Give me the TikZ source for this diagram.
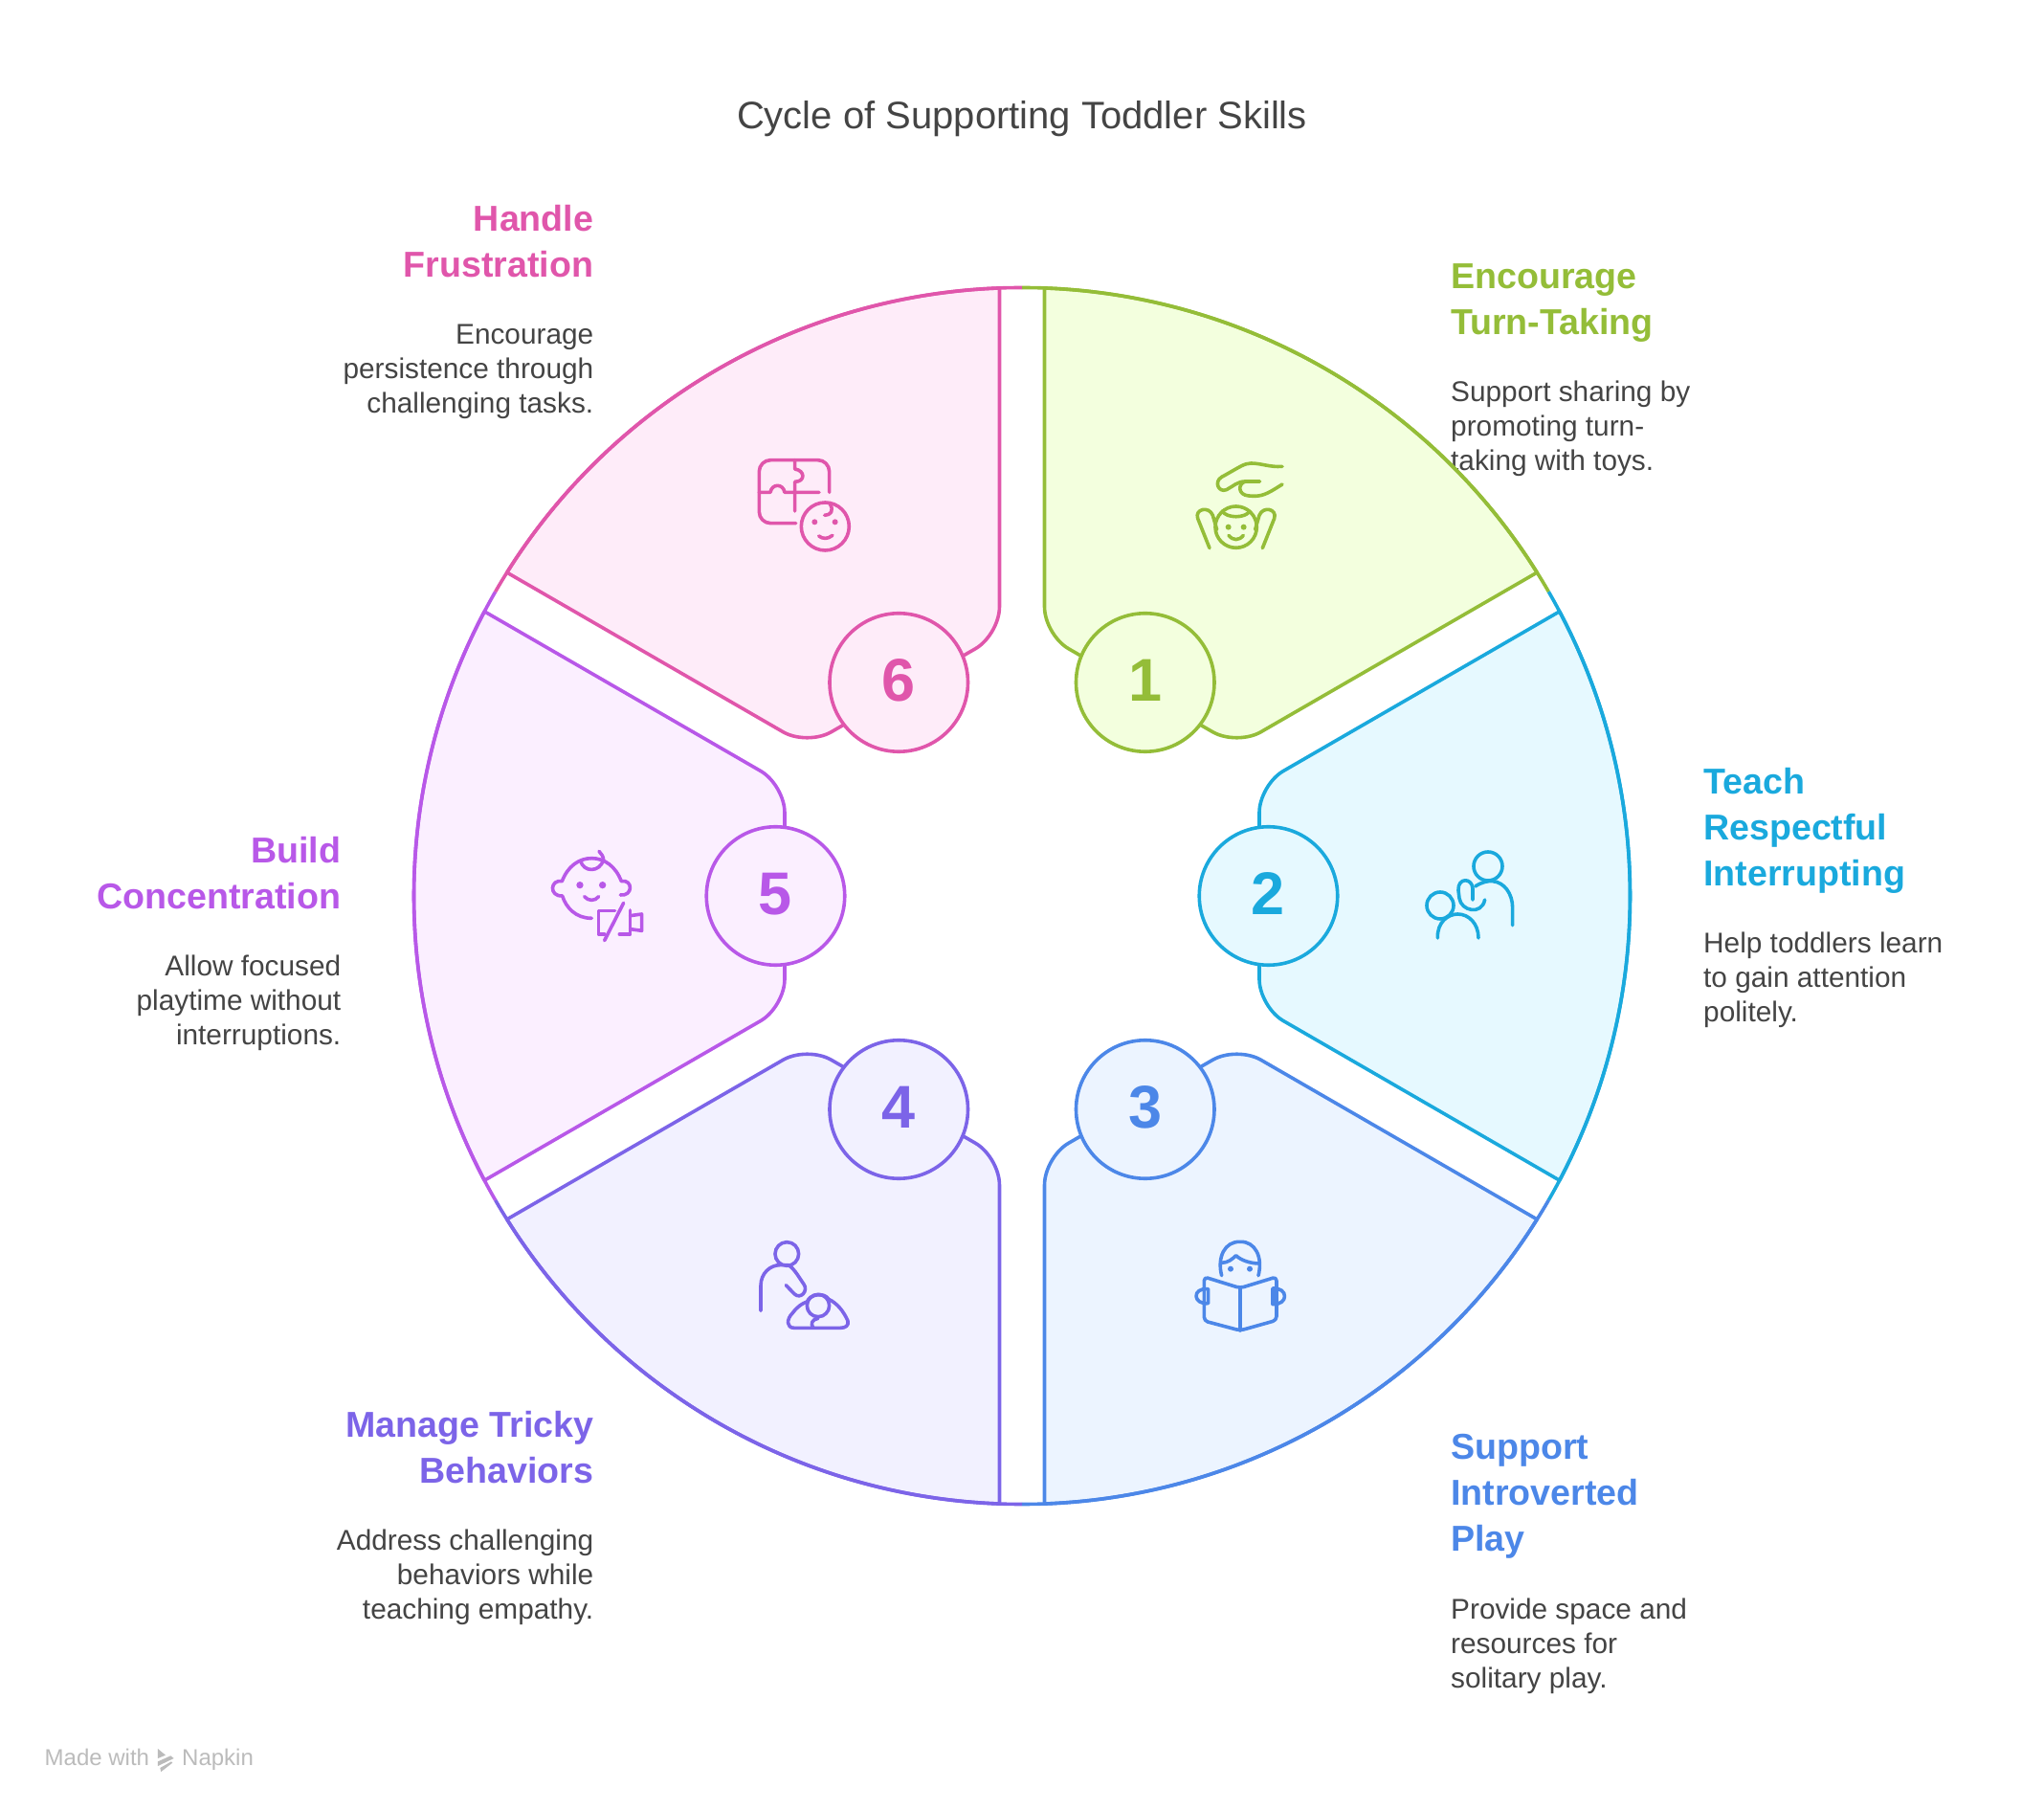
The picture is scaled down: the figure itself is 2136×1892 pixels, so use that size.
\documentclass[tikz,border=0pt]{standalone}
\usepackage{fontspec}
\setmainfont{Liberation Sans}
\definecolor{turnline}{HTML}{94BD38}
\definecolor{turnfill}{HTML}{F3FFDE}
\definecolor{askline}{HTML}{1AA9DD}
\definecolor{askfill}{HTML}{E6F9FF}
\definecolor{playline}{HTML}{4C87E8}
\definecolor{playfill}{HTML}{ECF4FF}
\definecolor{trickline}{HTML}{7C64E8}
\definecolor{trickfill}{HTML}{F2F1FF}
\definecolor{focusline}{HTML}{B858E8}
\definecolor{focusfill}{HTML}{FBEFFF}
\definecolor{calmline}{HTML}{E056AB}
\definecolor{calmfill}{HTML}{FEECF9}
\definecolor{bodytext}{HTML}{444444}
\definecolor{marktext}{HTML}{BBBBBB}
\tikzset{
  headtxt/.style={font=\fontsize{37.6}{48}\selectfont\bfseries, inner sep=0pt},
  bodytxt/.style={font=\fontsize{29.8}{36}\selectfont, text=bodytext, inner sep=0pt},
  wedge/.style 2 args={draw=#1, fill=#2, line width=3.6pt, line join=round},
  rim/.style={draw=#1, line width=3.6pt},
  badge/.style 2 args={circle, draw=#1, fill=#2, text=#1, line width=3.6pt, minimum size=144.5pt, inner sep=0pt, text depth=4pt, font=\fontsize{63}{63}\selectfont\bfseries},
  iconline/.style={draw=#1, line width=3.6pt, line cap=round, line join=round},
  icondot/.style={fill=#1},
}
\begin{document}
\begin{tikzpicture}[x=1pt,y=1pt]
        % Page, origin at the centre of the wheel
        \useasboundingbox (-1068,-956) rectangle (1068,936);
        \def\radius{635.5}
        \def\edgeang{27.88}
        \def\innerx{248}
        \def\innery{116}

        \node[font=\fontsize{40}{46}\selectfont, text=bodytext] (title) at (0,812) {Cycle of Supporting Toddler Skills};

        % Labels lie under the wedges
        \node[headtxt, text=turnline, align=left, anchor=north west] (head1) at (448,660.5) {Encourage\\Turn-Taking};
        \node[bodytxt, align=left, anchor=north west] (desc1) at (448,538.5) {Support sharing by\\promoting turn-\\taking with toys.};
        \node[headtxt, text=askline, align=left, anchor=north west] (head2) at (712,133.5) {Teach\\Respectful\\Interrupting};
        \node[bodytxt, align=left, anchor=north west] (desc2) at (712,-37.5) {Help toddlers learn\\to gain attention\\politely.};
        \node[headtxt, text=playline, align=left, anchor=north west] (head3) at (448,-562.5) {Support\\Introverted\\Play};
        \node[bodytxt, align=left, anchor=north west] (desc3) at (448,-734) {Provide space and\\resources for\\solitary play.};
        \node[headtxt, text=trickline, align=right, anchor=north east] (head4) at (-447.5,-538.5) {Manage Tricky\\Behaviors};
        \node[bodytxt, align=right, anchor=north east] (desc4) at (-447.5,-661.5) {Address challenging\\behaviors while\\teaching empathy.};
        \node[headtxt, text=focusline, align=right, anchor=north east] (head5) at (-711.5,62) {Build\\Concentration};
        \node[bodytxt, align=right, anchor=north east] (desc5) at (-711.5,-61.5) {Allow focused\\playtime without\\interruptions.};
        \node[headtxt, text=calmline, align=right, anchor=north east] (head6) at (-447.5,722) {Handle\\Frustration};
        \node[bodytxt, align=right, anchor=north east] (desc6) at (-447.5,597.5) {Encourage\\persistence through\\challenging tasks.};

        % Turn-taking: centred on 60 degrees
        \begin{scope}[rotate=60]
        \path[wedge={turnline}{turnfill}] (\edgeang:\radius) [rounded corners=29pt] -- (\innerx,\innery) -- (\innerx,-\innery) [sharp corners] -- (-\edgeang:\radius) arc (-\edgeang:\edgeang:\radius) -- cycle;
        \end{scope}
        \draw[rim=turnline] (90:\radius) arc (90:30:\radius);
        \node[badge={turnline}{turnfill}] (num1) at (60:257.5) {1};

        % Interrupting: centred on 0 degrees
        \begin{scope}[rotate=0]
        \path[wedge={askline}{askfill}] (\edgeang:\radius) [rounded corners=29pt] -- (\innerx,\innery) -- (\innerx,-\innery) [sharp corners] -- (-\edgeang:\radius) arc (-\edgeang:\edgeang:\radius) -- cycle;
        \end{scope}
        \draw[rim=askline] (30:\radius) arc (30:-30:\radius);
        \node[badge={askline}{askfill}] (num2) at (0:257.5) {2};

        % Introverted play: centred on 300 degrees
        \begin{scope}[rotate=300]
        \path[wedge={playline}{playfill}] (\edgeang:\radius) [rounded corners=29pt] -- (\innerx,\innery) -- (\innerx,-\innery) [sharp corners] -- (-\edgeang:\radius) arc (-\edgeang:\edgeang:\radius) -- cycle;
        \end{scope}
        \draw[rim=playline] (330:\radius) arc (330:270:\radius);
        \node[badge={playline}{playfill}] (num3) at (300:257.5) {3};

        % Tricky behaviors: centred on 240 degrees
        \begin{scope}[rotate=240]
        \path[wedge={trickline}{trickfill}] (\edgeang:\radius) [rounded corners=29pt] -- (\innerx,\innery) -- (\innerx,-\innery) [sharp corners] -- (-\edgeang:\radius) arc (-\edgeang:\edgeang:\radius) -- cycle;
        \end{scope}
        \draw[rim=trickline] (270:\radius) arc (270:210:\radius);
        \node[badge={trickline}{trickfill}] (num4) at (240:257.5) {4};

        % Concentration: centred on 180 degrees
        \begin{scope}[rotate=180]
        \path[wedge={focusline}{focusfill}] (\edgeang:\radius) [rounded corners=29pt] -- (\innerx,\innery) -- (\innerx,-\innery) [sharp corners] -- (-\edgeang:\radius) arc (-\edgeang:\edgeang:\radius) -- cycle;
        \end{scope}
        \draw[rim=focusline] (210:\radius) arc (210:150:\radius);
        \node[badge={focusline}{focusfill}] (num5) at (180:257.5) {5};

        % Frustration: centred on 120 degrees
        \begin{scope}[rotate=120]
        \path[wedge={calmline}{calmfill}] (\edgeang:\radius) [rounded corners=29pt] -- (\innerx,\innery) -- (\innerx,-\innery) [sharp corners] -- (-\edgeang:\radius) arc (-\edgeang:\edgeang:\radius) -- cycle;
        \end{scope}
        \draw[rim=calmline] (150:\radius) arc (150:90:\radius);
        \node[badge={calmline}{calmfill}] (num6) at (120:257.5) {6};

        % Icon 1: hand above a toddler
        \begin{scope}[shift={(162,476)},x=0.3333pt,y=-0.3333pt]
        \draw[iconline=turnline] (330,82) .. controls (290,85) and (265,72) .. (232,72) .. controls (210,72) and (195,85) .. (140,115) .. controls (115,130) and (130,165) .. (155,155) .. controls (175,145) and (190,128) .. (215,129) -- (260,129);
        \draw[iconline=turnline] (215,129) .. controls (190,135) and (190,172) .. (225,174) .. controls (265,178) and (280,170) .. (330,138);
        \draw[iconline=turnline] (185,272) circle (65);
        \draw[iconline=turnline] (142,222) .. controls (155,245) and (215,245) .. (228,222);
        \fill[icondot=turnline] (161,272) circle (9) (209,272) circle (9);
        \draw[iconline=turnline] (162,298) .. controls (175,315) and (195,315) .. (208,298);
        \draw[iconline=turnline] (102,338) -- (65,245) .. controls (55,215) and (100,205) .. (112,235) -- (125,280);
        \draw[iconline=turnline] (268,338) -- (305,245) .. controls (315,215) and (270,205) .. (258,235) -- (245,280);
        \end{scope}

        % Icon 2: adult and child
        \begin{scope}[shift={(402,66)},x=0.3333pt,y=-0.3333pt]
        \draw[iconline=askline] (255,105) circle (45);
        \draw[iconline=askline] (215,168) .. controls (235,155) and (255,150) .. (270,152) .. controls (305,155) and (332,190) .. (332,235) -- (332,290);
        \draw[iconline=askline] (207,210) -- (207,175) .. controls (205,140) and (160,140) .. (162,180) -- (165,205) .. controls (170,245) and (235,260) .. (245,210);
        \draw[iconline=askline] (105,228) circle (42);
        \draw[iconline=askline] (97,330) .. controls (95,280) and (130,255) .. (160,255) .. controls (195,255) and (225,285) .. (225,330);
        \end{scope}

        % Icon 3: child reading
        \begin{scope}[shift={(162,-344)},x=0.3333pt,y=-0.3333pt]
        \draw[iconline=playline] (140,158) .. controls (125,100) and (150,50) .. (198,52) .. controls (245,50) and (270,100) .. (255,158);
        \draw[iconline=playline] (140,118) .. controls (160,118) and (175,105) .. (185,95) .. controls (200,110) and (230,120) .. (258,120);
        \fill[icondot=playline] (168,137) circle (9) (228,137) circle (9);
        \draw[iconline=playline, rounded corners=4pt] (198,197) -- (85,162) -- (85,300) -- (198,330) -- (312,298) -- (312,162) -- cycle;
        \draw[iconline=playline] (198,197) -- (198,330);
        \draw[iconline=playline] (98,200) -- (98,245) .. controls (50,250) and (45,195) .. (98,200);
        \draw[iconline=playline] (300,198) -- (300,248) .. controls (350,250) and (350,195) .. (300,198);
        \end{scope}

        % Icon 4: adult and swaddled baby
        \begin{scope}[shift={(-288,-344)},x=0.3333pt,y=-0.3333pt]
        \draw[iconline=trickline] (127,90) circle (37);
        \draw[iconline=trickline] (45,268) -- (45,190) .. controls (45,150) and (75,125) .. (105,125) -- (130,125) .. controls (145,130) and (160,155) .. (180,185) .. controls (195,205) and (170,235) .. (150,215) -- (124,188);
        \draw[iconline=trickline] (225,252) circle (35);
        \draw[iconline=trickline] (190,240) .. controls (200,215) and (245,210) .. (258,232) .. controls (285,245) and (305,270) .. (318,300) .. controls (322,315) and (310,322) .. (295,322) -- (150,322) .. controls (125,322) and (125,295) .. (145,275) .. controls (160,255) and (175,245) .. (190,240);
        \draw[iconline=trickline] (225,292) .. controls (205,295) and (200,310) .. (210,322);
        \end{scope}

        % Icon 5: baby and muted speaker
        \begin{scope}[shift={(-508,56)},x=0.3333pt,y=-0.3333pt]
        \draw[iconline=focusline] (175,238) .. controls (125,238) and (95,205) .. (83,168) .. controls (40,170) and (45,115) .. (82,122) .. controls (100,75) and (135,50) .. (175,50) .. controls (215,50) and (250,75) .. (268,122) .. controls (305,115) and (305,170) .. (265,165);
        \draw[iconline=focusline] (140,58) .. controls (150,95) and (200,95) .. (212,55) .. controls (212,45) and (205,35) .. (198,28);
        \fill[icondot=focusline] (138,134) circle (11) (209,134) circle (11);
        \draw[iconline=focusline] (152,170) .. controls (165,185) and (185,185) .. (197,170);
        \draw[iconline=focusline] (275,190) -- (215,308);
        \draw[iconline=focusline] (248,214) -- (197,214) -- (197,288) -- (215,288);
        \draw[iconline=focusline] (262,288) -- (296,288) -- (296,213);
        \draw[iconline=focusline] (296,230) -- (332,225) -- (332,277) -- (296,272);
        \end{scope}

        % Icon 6: puzzle and baby face
        \begin{scope}[shift={(-288,466)},x=0.3333pt,y=-0.3333pt]
        \draw[iconline=calmline, rounded corners=12pt] (155,230) -- (40,230) -- (40,32) -- (260,32) -- (260,133);
        \draw[iconline=calmline] (40,133) -- (75,133) .. controls (80,105) and (115,105) .. (120,133) -- (228,133);
        \draw[iconline=calmline] (152,32) -- (152,60) .. controls (185,65) and (185,100) .. (152,100) -- (152,192);
        \draw[iconline=calmline] (247,240) circle (75);
        \fill[icondot=calmline] (214,226) circle (9) (278,226) circle (9);
        \draw[iconline=calmline] (227,270) .. controls (240,280) and (255,280) .. (270,268);
        \draw[iconline=calmline] (245,205) .. controls (265,205) and (275,190) .. (262,170);
        \end{scope}

        % Footer mark
        \node[font=\fontsize{24}{28}\selectfont, text=marktext, anchor=base west, inner sep=0pt] (made) at (-1021.5,-908) {Made with};
        \node[font=\fontsize{24}{28}\selectfont, text=marktext, anchor=base west, inner sep=0pt] (napkin) at (-878,-908) {Napkin};
        \begin{scope}[shift={(-1049,-875)},x=0.3333pt,y=-0.3333pt]
        \fill[marktext] (438,48) -- (462,68) -- (438,78) -- cycle;
        \fill[marktext] (438,88) -- (478,70) -- (488,78) -- (438,102) -- cycle;
        \fill[marktext] (445,108) -- (480,88) -- (484,92) -- (448,120) -- cycle;
        \end{scope}
    \end{tikzpicture}
\end{document}
